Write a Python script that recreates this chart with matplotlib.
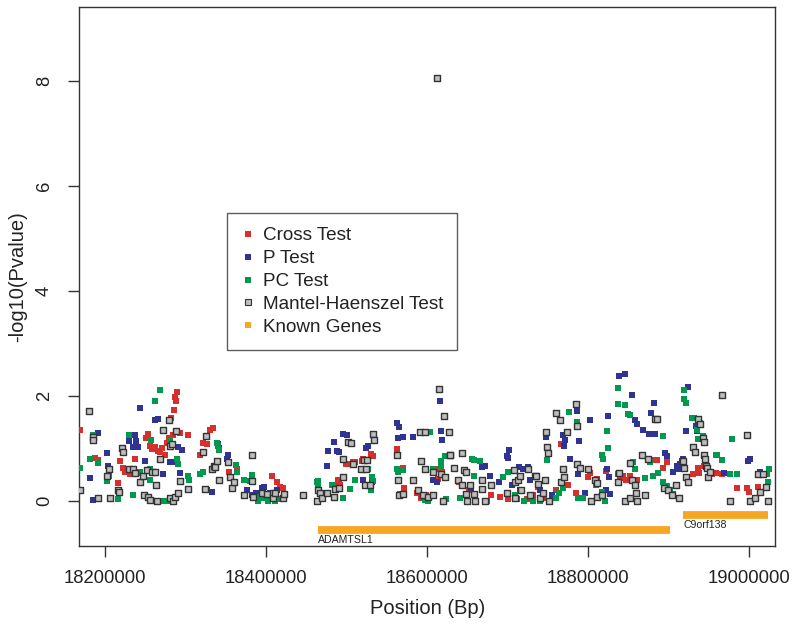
import matplotlib
matplotlib.use("Agg")
import matplotlib.pyplot as plt
from matplotlib.lines import Line2D

plt.rcParams['font.family'] = ['Liberation Sans', 'DejaVu Sans']

# ---------------- data ----------------
cross_pos = [18168500, 18187000, 18191000, 18216000, 18218000, 18222000, 18224000, 18231000, 18237000, 18243000,
             18251000, 18253000, 18256000, 18258000, 18262000, 18264000, 18265000, 18268000, 18270000, 18274000,
             18277000, 18279000, 18280000, 18282000, 18284000, 18285500, 18286700, 18288000, 18289000, 18293000,
             18303000, 18318000, 18321000, 18326000, 18330000, 18334000, 18354000, 18364000, 18407000, 18414000,
             18417000, 18421000, 18488000, 18489000, 18491000, 18492000, 18499000, 18502000, 18508000, 18510000,
             18519000, 18521000, 18531000, 18533000, 18563000, 18566000, 18570000, 18571000, 18587000, 18593000,
             18599000, 18613000, 18614000, 18619000, 18640000, 18652000, 18660000, 18680000, 18691000, 18701000,
             18712000, 18724000, 18732000, 18738000, 18745000, 18760000, 18767000, 18775000, 18785000, 18800000,
             18803000, 18811000, 18823000, 18837000, 18840000, 18844000, 18848000, 18852000, 18861000, 18875000,
             18881000, 18886000, 18893000, 18898000, 18931000, 18937000, 18938000, 18944000, 18948000, 18954000,
             18959000, 18967000, 18985000, 18998000, 19000000, 19011000, 19014000]
cross_val = [1.35, 0.81, 0.78, 0.34, 0.75, 0.62, 0.55, 0.50, 0.80, 0.53,
             1.20, 1.28, 1.05, 0.98, 1.02, 0.30, 0.95, 0.92, 1.00, 0.88,
             1.10, 1.20, 1.02, 1.57, 1.25, 1.73, 1.98, 1.89, 2.08, 1.29,
             1.26, 0.87, 1.10, 1.08, 1.35, 1.38, 0.55, 0.60, 0.47, 0.35,
             0.27, 0.25, 0.30, 0.40, 0.34, 0.30, 0.69, 0.69, 0.73, 0.73,
             0.76, 0.80, 0.89, 0.86, 0.98, 0.12, 0.62, 0.25, 0.15, 0.06,
             0.10, 0.60, 0.42, 0.55, 0.35, 0.20, 0.05, 0.10, 0.07, 0.03,
             0.03, 0.03, 0.10, 0.27, 0.05, 0.20, 1.08, 0.30, 0.15, 0.45,
             0.53, 0.42, 0.57, 0.50, 0.43, 0.47, 0.40, 0.47, 0.40, 0.77,
             0.77, 0.77, 0.63, 0.74, 0.50, 0.62, 0.52, 0.66, 0.60, 0.50,
             0.53, 0.50, 0.24, 0.24, 0.17, 0.27, 0.17]

p_pos = [18181000, 18185000, 18191000, 18202000, 18204000, 18229000, 18235000, 18237000, 18238000, 18241000,
         18243000, 18249000, 18262000, 18265000, 18272000, 18280000, 18284000, 18291000, 18293000, 18296000,
         18326000, 18333000, 18340000, 18341000, 18351000, 18353000, 18376000, 18382000, 18388000, 18395000,
         18397000, 18405000, 18413000, 18476000, 18477000, 18484000, 18488000, 18490000, 18495000, 18500000,
         18521000, 18524000, 18527000, 18532000, 18563000, 18564000, 18565000, 18570000, 18583000, 18607000,
         18612000, 18616000, 18617000, 18619000, 18655000, 18669000, 18672000, 18678000, 18690000, 18700000,
         18701000, 18702000, 18706000, 18714000, 18716000, 18719000, 18725000, 18728000, 18740000, 18748000,
         18755000, 18769000, 18770000, 18772000, 18778000, 18786000, 18788000, 18789000, 18797000, 18803000,
         18822000, 18824000, 18825000, 18826000, 18827000, 18839000, 18846000, 18855000, 18859000, 18861000,
         18869000, 18876000, 18878000, 18882000, 18883000, 18896000, 18899000, 18906000, 18911000, 18912000,
         18915000, 18917000, 18918000, 18922000, 18925000, 18934000, 18936000, 18969000, 18999000, 19001000,
         19014000]
p_val = [0.43, 0.01, 1.29, 0.90, 0.67, 1.13, 1.02, 1.25, 1.13, 1.02,
         1.77, 0.75, 1.53, 1.55, 0.50, 0.74, 0.74, 1.02, 0.52, 0.97,
         0.20, 0.16, 1.08, 1.00, 0.80, 0.87, 0.20, 0.10, 0.15, 0.25,
         0.27, 0.15, 0.20, 0.67, 0.95, 1.12, 0.95, 0.93, 1.27, 1.26,
         0.40, 1.00, 1.05, 0.35, 1.48, 1.20, 1.40, 1.22, 1.22, 0.40,
         0.35, 1.90, 1.33, 1.15, 0.25, 0.65, 0.67, 0.48, 0.35, 0.85,
         0.82, 0.97, 0.30, 0.65, 0.20, 0.60, 0.65, 0.40, 0.20, 1.22,
         0.10, 1.25, 1.05, 1.15, 0.80, 1.70, 0.50, 1.14, 0.15, 1.53,
         0.20, 0.60, 1.61, 0.45, 0.12, 2.38, 2.42, 2.01, 1.54, 1.47,
         1.35, 1.28, 1.67, 1.87, 1.28, 0.90, 0.85, 0.55, 0.66, 0.60,
         0.70, 0.75, 0.80, 1.33, 2.16, 1.43, 1.33, 0.53, 0.76, 0.80,
         0.55]

pc_pos = [18168500, 18181000, 18185000, 18191000, 18202000, 18205000, 18216000, 18229000, 18235000, 18243000,
          18255000, 18256000, 18257000, 18262000, 18268000, 18270000, 18277000, 18280000, 18281000, 18284000,
          18289000, 18291000, 18303000, 18304000, 18318000, 18321000, 18339000, 18340000, 18341000, 18363000,
          18364000, 18373000, 18380000, 18383000, 18389000, 18390000, 18395000, 18402000, 18411000, 18413000,
          18463000, 18464000, 18465000, 18482000, 18487000, 18495000, 18504000, 18510000, 18527000, 18530000,
          18532000, 18533000, 18563000, 18564000, 18570000, 18598000, 18601000, 18604000, 18608000, 18617000,
          18618000, 18622000, 18624000, 18641000, 18656000, 18658000, 18659000, 18666000, 18675000, 18694000,
          18701000, 18710000, 18720000, 18732000, 18740000, 18749000, 18760000, 18764000, 18769000, 18777000,
          18787000, 18788000, 18794000, 18810000, 18817000, 18818000, 18819000, 18821000, 18824000, 18825000,
          18837000, 18838000, 18846000, 18850000, 18852000, 18856000, 18859000, 18871000, 18877000, 18881000,
          18887000, 18893000, 18894000, 18898000, 18902000, 18906000, 18919000, 18920000, 18922000, 18930000,
          18932000, 18936000, 18937000, 18940000, 18943000, 18944000, 18959000, 18961000, 18967000, 18977000,
          18979000, 18985000, 19023000, 19024000, 19025000]
pc_val = [0.62, 0.80, 1.25, 0.72, 0.38, 0.47, 0.04, 1.25, 0.10, 0.55,
          0.60, 0.40, 1.16, 1.89, 2.11, 0.00, 0.00, 1.16, 0.00, 0.02,
          0.80, 0.70, 0.47, 0.40, 0.50, 0.55, 1.10, 1.05, 0.97, 0.68,
          0.55, 0.40, 0.37, 0.49, 0.07, 0.00, 0.05, 0.00, 0.00, 0.03,
          0.35, 0.38, 0.32, 0.30, 0.25, 0.05, 0.22, 0.40, 0.60, 0.20,
          0.45, 0.37, 0.60, 0.55, 0.58, 0.02, 0.00, 1.30, 0.60, 0.76,
          0.65, 0.85, 0.03, 0.05, 0.80, 0.78, 0.48, 0.75, 0.00, 0.45,
          0.55, 0.10, 0.00, 0.00, 0.00, 0.77, 0.05, 0.15, 0.25, 1.69,
          1.50, 0.05, 0.05, 0.30, 0.17, 0.87, 0.80, 0.00, 1.33, 1.00,
          2.14, 1.84, 1.82, 1.65, 1.63, 0.73, 0.61, 0.43, 0.73, 0.47,
          0.53, 1.23, 0.35, 0.28, 0.20, 0.13, 2.10, 1.93, 1.87, 1.57,
          1.57, 1.35, 1.18, 1.48, 1.23, 1.14, 0.87, 0.87, 0.77, 0.50,
          1.17, 0.50, 0.50, 0.35, 0.60]

mh_pos = [18168500, 18180000, 18184500, 18185000, 18191000, 18202000, 18205000, 18206000, 18216000, 18217000,
          18221000, 18222000, 18230000, 18234000, 18237000, 18243000, 18247000, 18248000, 18252000, 18253000,
          18256000, 18258000, 18262000, 18263000, 18264000, 18268000, 18272000, 18279000, 18280000, 18281000,
          18283000, 18284000, 18287000, 18288000, 18291000, 18293000, 18303000, 18321000, 18324000, 18325000,
          18333000, 18335000, 18337000, 18339000, 18341000, 18353000, 18355000, 18358000, 18360000, 18373000,
          18382000, 18383000, 18384000, 18395000, 18401000, 18408000, 18409000, 18411000, 18421000, 18422000,
          18446000, 18463000, 18464000, 18467000, 18470000, 18476000, 18484000, 18486000, 18491000, 18495000,
          18496000, 18502000, 18505000, 18508000, 18518000, 18522000, 18523000, 18524000, 18525000, 18529000,
          18533000, 18534000, 18563000, 18564000, 18565000, 18570000, 18583000, 18589000, 18591000, 18593000,
          18595000, 18597000, 18598000, 18601000, 18607000, 18608000, 18612400, 18615000, 18617000, 18620000,
          18621000, 18622000, 18627000, 18628000, 18629000, 18633000, 18639000, 18643000, 18644000, 18646000,
          18648000, 18649000, 18650000, 18653000, 18658000, 18660000, 18668000, 18669000, 18672000, 18680000,
          18700000, 18708000, 18709000, 18710000, 18713000, 18716000, 18717000, 18725000, 18728000, 18734000,
          18736000, 18738000, 18740000, 18744000, 18747000, 18748000, 18749000, 18750000, 18752000, 18761000,
          18765000, 18767000, 18769000, 18770000, 18774000, 18785000, 18786000, 18787000, 18790000, 18800000,
          18804000, 18809000, 18811000, 18812000, 18817000, 18837000, 18839000, 18846000, 18852000, 18853000,
          18855000, 18859000, 18860000, 18861000, 18867000, 18871000, 18875000, 18884000, 18886000, 18895000,
          18900000, 18905000, 18910000, 18913000, 18918000, 18919000, 18922000, 18924000, 18931000, 18933000,
          18937000, 18940000, 18943000, 18944000, 18945000, 18946000, 18947000, 18948000, 18950000, 18952000,
          18967000, 18977000, 18998000, 19001000, 19008000, 19011000, 19014000, 19018000, 19021000, 19024000]
mh_val = [0.20, 1.71, 1.21, 1.16, 0.05, 0.47, 0.60, 0.05, 0.20, 0.16,
          1.00, 0.93, 0.60, 0.60, 0.53, 0.35, 0.47, 0.10, 0.58, 0.07,
          0.02, 0.55, 0.55, 0.30, 0.00, 0.80, 1.35, 1.54, 1.05, 0.05,
          1.08, 0.00, 0.08, 1.33, 0.15, 0.38, 0.22, 0.93, 0.23, 1.23,
          0.60, 0.67, 0.65, 0.75, 0.40, 0.73, 0.45, 0.25, 0.35, 0.10,
          0.38, 0.87, 0.08, 0.15, 0.12, 0.15, 0.05, 0.15, 0.05, 0.13,
          0.11, 0.00, 0.20, 0.15, 0.05, 0.15, 0.07, 0.22, 0.25, 0.45,
          0.80, 1.12, 1.10, 0.70, 0.60, 0.78, 0.30, 0.60, 0.78, 0.30,
          1.27, 1.15, 0.87, 0.40, 0.10, 0.12, 0.40, 0.20, 1.30, 0.75,
          0.10, 1.30, 0.60, 0.07, 0.10, 0.55, 8.06, 2.13, 0.50, 0.00,
          1.61, 0.45, 1.30, 0.87, 0.87, 0.62, 0.40, 0.30, 0.90, 0.58,
          0.12, 0.55, 0.00, 0.30, 0.12, 0.00, 0.40, 0.22, 0.00, 0.30,
          0.15, 0.58, 0.05, 0.35, 0.40, 0.47, 0.20, 0.60, 0.10, 0.47,
          0.47, 0.32, 0.05, 0.15, 0.40, 1.30, 1.03, 0.90, 0.00, 1.67,
          1.54, 0.35, 0.60, 0.45, 1.30, 1.84, 0.70, 1.43, 0.63, 0.60,
          0.00, 0.40, 0.33, 0.07, 0.10, 0.35, 0.53, 0.00, 0.72, 0.05,
          0.40, 0.30, 0.15, 0.00, 0.87, 0.10, 0.80, 1.56, 1.56, 0.25,
          0.20, 0.10, 0.30, 0.05, 0.75, 0.63, 0.45, 0.35, 1.03, 0.93,
          1.56, 1.47, 1.20, 1.12, 0.87, 0.80, 0.66, 0.62, 0.45, 0.55,
          2.01, 0.00, 1.25, 0.00, 0.05, 0.50, 0.17, 0.51, 0.27, 0.00]

gene_names = ["ADAMTSL1", "C9orf138"]
gene_start = [18464500, 18918700]
gene_end = [18901800, 19023600]
gene_track = [-0.564, -0.263]

legend_labels = ["Cross Test", "P Test", "PC Test", "Mantel-Haenszel Test", "Known Genes"]

# ---------------- style ----------------
c_red = "#D62F2C"
c_blue = "#2E3394"
c_green = "#009A4E"
c_gray = "#BEBEBE"
c_orange = "#F6A623"
c_edge = "#333333"

fig = plt.figure(figsize=(8.0, 6.34), dpi=100)
ax = fig.add_axes([79.3 / 800, 1 - 546 / 634, (775 - 79.3) / 800, (546 - 7.3) / 634])

ms = 20
ax.scatter(cross_pos, cross_val, marker='s', s=ms, c=c_red, linewidths=0, zorder=3)
ax.scatter(p_pos, p_val, marker='s', s=ms, c=c_blue, linewidths=0, zorder=3)
ax.scatter(pc_pos, pc_val, marker='s', s=ms, c=c_green, linewidths=0, zorder=3)
ax.scatter(mh_pos, mh_val, marker='s', s=16, c=c_gray, edgecolors=c_edge, linewidths=1.0, zorder=4)

for name, st, en, tr in zip(gene_names, gene_start, gene_end, gene_track):
    ax.hlines(tr, st, en, colors=c_orange, linewidth=5.6, capstyle='butt', zorder=2)
    ax.annotate(name, xy=(st, tr), xytext=(0, -3.6), textcoords='offset points',
                ha='left', va='top', fontsize=7.6, color='#222222')

ax.set_xlim(18167700, 19032700)
ax.set_ylim(-0.863, 9.40)

ax.set_xticks([18200000, 18400000, 18600000, 18800000, 19000000])
ax.set_xticklabels(["18200000", "18400000", "18600000", "18800000", "19000000"])
ax.set_yticks([0, 2, 4, 6, 8])
ax.set_yticklabels(["0", "2", "4", "6", "8"], rotation=90, va='center')

for sp in ax.spines.values():
    sp.set_color(c_edge)
    sp.set_linewidth(1.0)
ax.tick_params(axis='both', direction='out', length=8, width=1.0, color=c_edge,
               labelsize=13.3, labelcolor='#222222')
ax.tick_params(axis='x', pad=9)
ax.tick_params(axis='y', pad=11)

ax.set_xlabel("Position (Bp)", fontsize=14.5, color='#222222')
ax.set_ylabel("-log10(Pvalue)", fontsize=14.5, color='#222222')
ax.xaxis.label.set_va('center')
ax.yaxis.label.set_va('center')
ax.xaxis.set_label_coords(0.5, -(608 - 546) / 538.7)
ax.yaxis.set_label_coords(-(79.3 - 18) / 695.7, 0.5)

handles = [
    Line2D([], [], ls='none', marker='s', markersize=5, markerfacecolor=c_red, markeredgewidth=0),
    Line2D([], [], ls='none', marker='s', markersize=5, markerfacecolor=c_blue, markeredgewidth=0),
    Line2D([], [], ls='none', marker='s', markersize=5, markerfacecolor=c_green, markeredgewidth=0),
    Line2D([], [], ls='none', marker='s', markersize=4.5, markerfacecolor=c_gray, markeredgecolor=c_edge, markeredgewidth=0.8),
    Line2D([], [], ls='none', marker='s', markersize=5, markerfacecolor=c_orange, markeredgewidth=0),
]
leg = ax.legend(handles, legend_labels, loc='upper left',
                bbox_to_anchor=(227 / 800, 1 - 213 / 634), bbox_transform=fig.transFigure,
                borderaxespad=0, frameon=True, fancybox=False, fontsize=13.6,
                handlelength=0.7, handletextpad=0.45, labelspacing=0.3,
                borderpad=0.75, edgecolor=c_edge)
leg.get_frame().set_linewidth(1.0)
for t in leg.get_texts():
    t.set_color('#222222')

fig.savefig("out.png", dpi=100)
